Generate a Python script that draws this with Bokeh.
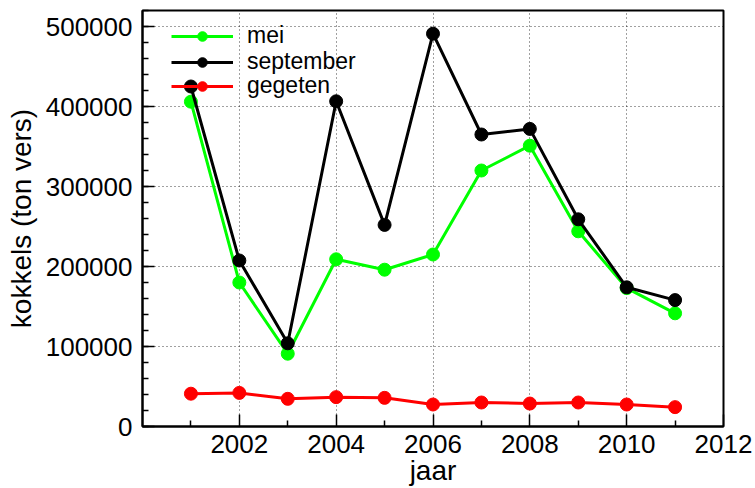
from bokeh.plotting import figure
from bokeh.models import (FixedTicker, SingleIntervalTicker, BasicTickFormatter,
                          Legend, LegendItem, Range1d)
from bokeh.embed import file_html
from bokeh.resources import INLINE

# ---- data ----
years = [2001, 2002, 2003, 2004, 2005, 2006, 2007, 2008, 2009, 2010, 2011]
mei = [406000, 180000, 91000, 209000, 196000, 215000, 320000, 351000, 244000, 173000, 141500]
september = [425000, 207500, 104000, 406500, 252000, 491000, 365000, 372000, 259000, 174000, 158000]
gegeten = [41000, 42000, 34600, 36700, 35800, 27500, 30000, 28700, 30000, 27500, 24200]

x_major_ticks = [2002, 2004, 2006, 2008, 2010, 2012]
x_minor_ticks = [2001, 2003, 2005, 2007, 2009, 2011]
series_names = ["mei", "september", "gegeten"]
x_title = "jaar"
y_title = "kokkels (ton vers)"

FONT = "Liberation Sans"

p = figure(width=755, height=488, output_backend="svg", toolbar_location=None,
           x_range=Range1d(2000, 2012), y_range=Range1d(0, 520000),
           min_border_left=142, min_border_right=32, min_border_top=10,
           min_border_bottom=62)

p.background_fill_color = "white"
p.border_fill_color = "white"
p.outline_line_color = "black"
p.outline_line_width = 2

# axes
p.xaxis.ticker = FixedTicker(ticks=x_major_ticks, minor_ticks=x_minor_ticks)
p.yaxis.ticker = SingleIntervalTicker(interval=100000, num_minor_ticks=5)
p.yaxis.formatter = BasicTickFormatter(use_scientific=False)
for ax in (p.xaxis[0], p.yaxis[0]):
    ax.axis_line_color = "black"
    ax.axis_line_width = 2
    ax.major_tick_in = 12
    ax.major_tick_out = 0
    ax.minor_tick_in = 6
    ax.minor_tick_out = 0
    ax.major_tick_line_color = "black"
    ax.minor_tick_line_color = "black"
    ax.major_tick_line_width = 1.5
    ax.minor_tick_line_width = 1.5
    ax.major_label_text_font = FONT
    ax.major_label_text_font_size = "26px"
    ax.major_label_text_color = "black"
    ax.axis_label_text_font = FONT
    ax.axis_label_text_font_size = "28px"
    ax.axis_label_text_font_style = "normal"
    ax.axis_label_text_color = "black"

p.yaxis.major_label_standoff = 10
p.xaxis.major_label_standoff = 8
p.yaxis.axis_label = y_title
p.yaxis.axis_label_standoff = 6
p.xaxis.axis_label = x_title
p.xaxis.axis_label_standoff = -1

# grid
for g in (p.xgrid[0], p.ygrid[0]):
    g.grid_line_color = "black"
    g.grid_line_alpha = 0.75
    g.grid_line_width = 1
    g.grid_line_dash = "1 3"

# series
colors = ["#00ff00", "black", "#ff0000"]
red_l = p.line(years, gegeten, line_color=colors[2], line_width=3)
red_s = p.scatter(years, gegeten, size=13, fill_color=colors[2], line_color=colors[2])
gr_l = p.line(years, mei, line_color=colors[0], line_width=3)
gr_s = p.scatter(years, mei, size=13, fill_color=colors[0], line_color=colors[0])
bk_l = p.line(years, september, line_color=colors[1], line_width=3)
bk_s = p.scatter(years, september, size=13, fill_color=colors[1], line_color=colors[1])

# one legend per row so that every row can be placed like the reference
legend_rows = [
    (series_names[0], [gr_l, gr_s], 377),
    (series_names[1], [bk_l, bk_s], 351),
    (series_names[2], [red_l, red_s], 327),
]
for name, rends, vy in legend_rows:
    lg = Legend(items=[LegendItem(label=name, renderers=rends)], location=(29, vy))
    lg.margin = 0
    lg.padding = 0
    lg.spacing = 0
    lg.glyph_width = 62
    lg.glyph_height = 24
    lg.label_height = 24
    lg.label_standoff = 14
    lg.label_text_font = FONT
    lg.label_text_font_size = "23px"
    lg.label_text_color = "black"
    lg.background_fill_alpha = 0
    lg.border_line_alpha = 0
    p.add_layout(lg)

open("out.html", "w").write(file_html(p, INLINE))
